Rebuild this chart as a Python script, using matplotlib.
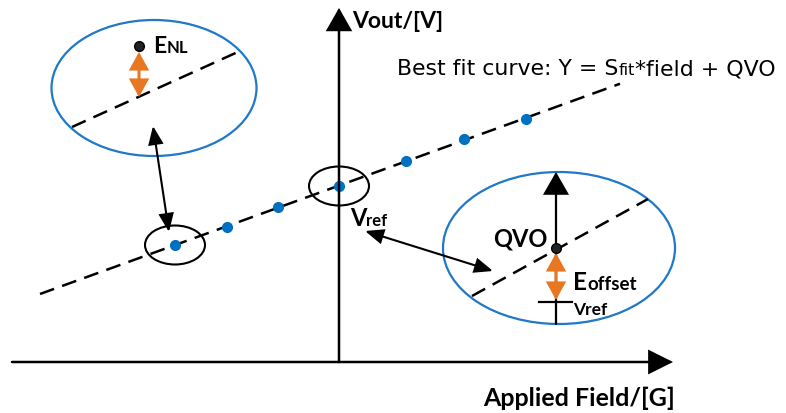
import numpy as np
import matplotlib
matplotlib.use('Agg')
import matplotlib.pyplot as plt
from matplotlib.patches import Ellipse, FancyArrowPatch

plt.rcParams['font.family'] = ['Lato', 'DejaVu Sans']

# measured output samples (field, Vout), origin where the axes cross
field = [-164, -112, -61, 0, 67, 125, 187]
vout = [117, 135, 155, 176, 201, 223, 243]
fit_range = [-299, 281]

BLUE = '#1f78c8'
DOT = '#0070c0'
ORANGE = '#e87722'
DASH = (6, 3.4)

fig = plt.figure(figsize=(7.86, 4.14), dpi=100)
ax = fig.add_axes([0, 0, 1, 1])
ax.set_xlim(-339, 447)
ax.set_ylim(-51, 363)
ax.axis('off')
r = fig.canvas.get_renderer()


def arrow(p0, p1, style='-|>', hl=15, hw=7.5, lw=1.5, color='black'):
    a = FancyArrowPatch(p0, p1, arrowstyle=f'{style},head_length={hl},head_width={hw}',
                        mutation_scale=1, shrinkA=0, shrinkB=0, lw=lw, color=color,
                        joinstyle='miter', zorder=4)
    ax.add_patch(a)


def run_text(x, y, parts, **kw):
    # draw pieces of text one after another on the same baseline
    for s, size in parts:
        t = ax.text(x, y, s, fontsize=size, va='baseline', ha='left', **kw)
        x += t.get_window_extent(r).width


# axes
arrow((-327, 0), (334, 0), hl=15, hw=7.5, lw=1.8)
arrow((0, 0), (0, 354), hl=14, hw=8, lw=1.8)
ax.text(144, -43, 'Applied Field/[G]', fontsize=18, fontweight='bold', va='baseline')
ax.text(13, 335, 'Vout/[V]', fontsize=16.5, fontweight='bold', va='baseline')

# best fit line through the samples
k, b = np.polyfit(field, vout, 1)
xs = np.array(fit_range)
ax.plot(xs, k * xs + b, color='black', lw=1.8, dashes=DASH, zorder=2)
ax.plot(field, vout, 'o', color=DOT, ms=7, zorder=3)
run_text(58, 288, [('Best fit curve: Y = S', 15.8), ('fit', 11.5), ('*field + QVO', 15.8)],
         family='DejaVu Sans')

# small circles around samples
for cx, cy in [(field[0], vout[0]), (field[3], vout[3])]:
    ax.add_patch(Ellipse((cx, cy), 60, 39, fill=False, ec='black', lw=1.5, zorder=3))
run_text(11, 137, [('V', 17), ('ref', 12)], fontweight='bold')

# left inset: non-linearity error
ax.add_patch(Ellipse((-185, 274), 205, 136, fill=False, ec=BLUE, lw=1.6))
ax.plot([-267, -99], [235, 311], color='black', lw=1.8, dashes=DASH)
ax.plot(-200, 316, 'o', color='#222222', mec='black', ms=7, zorder=5)
arrow((-200, 265), (-200, 310), style='<|-|>', hl=10, hw=5.5, lw=2.2, color=ORANGE)
run_text(-186, 310, [('E', 16.5), ('NL', 12)], fontweight='bold')
arrow((-170, 130), (-186, 236), style='<|-|>', hl=11, hw=4.5, lw=1.5)

# right inset: offset error
ax.add_patch(Ellipse((220, 114), 232, 152, fill=False, ec=BLUE, lw=1.6))
ax.plot([133, 309], [66, 163], color='black', lw=1.8, dashes=DASH)
arrow((217, 38), (217, 190), hl=14, hw=8, lw=1.6)
ax.plot(217, 114, 'o', color='#222222', mec='black', ms=7, zorder=5)
ax.text(209, 116, 'QVO', fontsize=17, fontweight='bold', ha='right', va='baseline')
arrow((217, 62), (217, 109), style='<|-|>', hl=10, hw=5.5, lw=2.2, color=ORANGE)
ax.plot([200, 233], [60, 60], color='black', lw=1.6)
run_text(234, 73, [('E', 17.5), ('offset', 13.5)], fontweight='bold')
run_text(234, 48, [('Vref', 12.5)], fontweight='bold')
arrow((26, 131), (154, 91), style='<|-|>', hl=11, hw=4.5, lw=1.5)

fig.savefig('out.png', dpi=100)
